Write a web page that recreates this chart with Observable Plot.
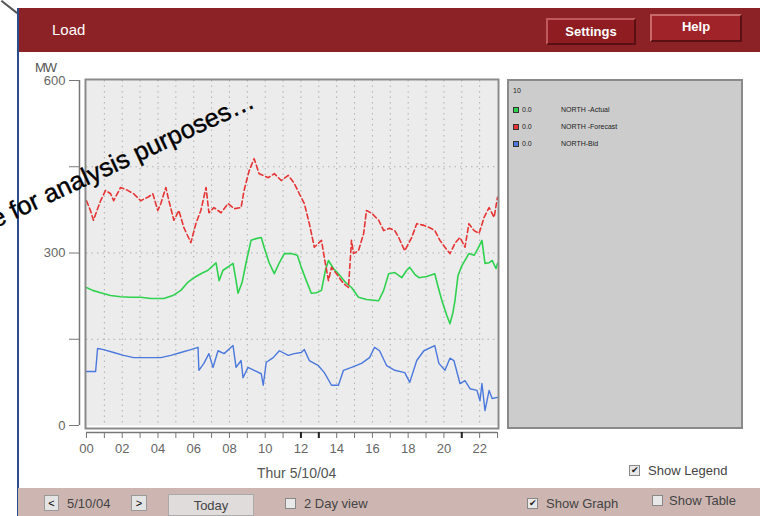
<!DOCTYPE html>
<html><head><meta charset="utf-8">
<script src="https://cdn.jsdelivr.net/npm/d3@7"></script>
<script src="https://cdn.jsdelivr.net/npm/@observablehq/plot@0.6"></script>
<style>
html,body{margin:0;padding:0;width:766px;height:516px;overflow:hidden;background:#fff;font-family:"Liberation Sans",Arial,sans-serif;}
#root{position:relative;width:766px;height:516px;}
.abs{position:absolute;}
#header{left:18px;top:8px;width:742px;height:44px;background:#8c2226;}
.btn{position:absolute;color:#fff;font-weight:bold;font-size:13px;text-align:center;box-sizing:border-box;}
#bottom{left:18px;top:488px;width:742px;height:28px;background:#cdb6b2;}
.small{font-size:13px;color:#444;}
.cb{position:absolute;width:11px;height:11px;border:1px solid #888;background:#e8e8e8;box-sizing:border-box;font-size:9px;line-height:9px;text-align:center;color:#222;}
.lg{position:absolute;font-size:7px;color:#222;}
.sq{position:absolute;width:6px;height:6px;border:1px solid #333;box-sizing:border-box;}
</style></head>
<body><div id="root">
<div class="abs" id="header">
  <div class="abs" style="left:34px;top:13px;color:#fff;font-size:15px;">Load</div>
  <div class="btn" style="left:528px;top:10px;width:90px;height:27px;background:#8e1c21;border:2px solid #c05a5a;border-right-color:#5a1012;border-bottom-color:#5a1012;line-height:23px;">Settings</div>
  <div class="btn" style="left:632px;top:6px;width:92px;height:28px;background:#a1232a;border:2px solid #c86868;border-right-color:#5a1012;border-bottom-color:#5a1012;line-height:22px;">Help</div>
</div>
<div class="abs" style="left:17px;top:8px;width:2px;height:508px;background:#2b4c8c;"></div>
<div class="abs" style="left:2px;top:0;width:20px;height:1.5px;background:#555;transform:rotate(38deg);transform-origin:0 0;"></div>
<div class="abs" style="left:35px;top:60px;font-size:13px;color:#555;letter-spacing:-1px;">MW</div>
<div id="chart" class="abs" style="left:0;top:60px;"></div>
<div class="abs" style="left:257px;top:465px;font-size:14px;color:#555;">Thur 5/10/04</div>
<div class="abs" id="legend" style="left:507px;top:79px;width:236px;height:350px;background:#cccccc;border:2px solid #8a8a8a;box-sizing:border-box;"></div>
<div class="cb" style="left:629px;top:465px;">&#10004;</div>
<div class="abs small" style="left:648px;top:463px;">Show Legend</div>
<div class="abs" id="bottom">
  <div class="abs" style="left:26px;top:7px;width:15px;height:16px;background:#e4e4e4;border:1px solid #999;box-sizing:border-box;font-size:11px;text-align:center;line-height:14px;">&lt;</div>
  <div class="abs small" style="left:49px;top:8px;">5/10/04</div>
  <div class="abs" style="left:113px;top:7px;width:16px;height:16px;background:#e4e4e4;border:1px solid #999;box-sizing:border-box;font-size:11px;text-align:center;line-height:14px;">&gt;</div>
  <div class="abs small" style="left:150px;top:6px;width:86px;height:22px;background:#e0dcdc;border:1px solid #aaa;box-sizing:border-box;text-align:center;line-height:22px;">Today</div>
  <div class="cb" style="left:267px;top:10px;"></div>
  <div class="abs small" style="left:286px;top:8px;">2 Day view</div>
  <div class="cb" style="left:509px;top:10px;">&#10004;</div>
  <div class="abs small" style="left:528px;top:8px;">Show Graph</div>
  <div class="cb" style="left:634px;top:7px;"></div>
  <div class="abs small" style="left:651px;top:5px;">Show Table</div>
</div>
<div class="abs" style="left:-3px;top:207px;font-size:25.5px;line-height:25px;color:#000;-webkit-text-stroke:0.4px #000;white-space:nowrap;transform:rotate(-25deg);transform-origin:0 100%;">e for analysis purposes…</div>
</div>
<script>
// Series names and colours
const seriesNames = ["NORTH -Actual", "NORTH -Forecast", "NORTH-Bid"];
const seriesColors = ["#2fd24f", "#e63434", "#4a78dc"];
const legendValues = ["0.0", "0.0", "0.0"];
const legendTitle = "10";

// NORTH -Actual (MW by hour)
const actualHours = [0,0.34,0.79,1.35,1.91,2.47,3.03,3.60,4.33,4.83,5.28,5.67,6.01,6.40,6.80,7.08,7.25,7.42,7.64,7.98,8.20,8.37,8.48,8.71,8.93,9.21,9.49,9.78,9.94,10.22,10.51,10.79,11.07,11.46,11.80,12.02,12.30,12.58,12.87,13.15,13.37,13.54,13.82,14.10,14.49,14.83,15.22,15.67,16.35,16.63,16.91,17.25,17.64,17.92,18.09,18.37,18.60,19.04,19.49,19.66,19.89,20.17,20.34,20.51,20.62,20.79,21.01,21.40,21.69,21.91,22.13,22.30,22.53,22.70,22.92,23.00];
const actualMW = [240,235,231,226,224,223,223,221,221,226,235,249,257,264,270,278,283,252,270,277,282,252,230,249,283,322,325,327,310,283,264,283,299,299,296,275,252,230,231,235,270,287,273,264,249,240,223,219,217,235,264,266,257,270,275,263,257,259,264,243,217,191,177,197,217,261,278,299,296,308,322,282,283,287,273,282];

// NORTH -Forecast
const forecastHours = [0,0.22,0.39,0.62,0.79,1.07,1.35,1.52,1.91,2.30,2.64,3.03,3.43,3.71,3.99,4.16,4.44,4.61,4.89,5.17,5.45,5.84,6.12,6.40,6.69,6.85,7.13,7.53,7.92,8.26,8.65,8.82,9.10,9.38,9.66,10.17,10.51,10.90,11.29,11.63,11.91,12.19,12.47,12.75,13.15,13.31,13.54,13.71,13.99,14.38,14.66,14.83,14.94,15.22,15.51,15.67,15.96,16.35,16.63,16.97,17.25,17.47,17.81,18.20,18.48,18.88,19.21,19.49,19.78,20.06,20.34,20.62,20.90,21.18,21.40,21.69,21.97,22.25,22.53,22.81,23.00];
const forecastMW = [391,374,357,377,391,409,403,391,414,409,403,391,397,403,374,386,414,391,357,374,344,318,351,374,414,370,379,370,386,377,379,409,443,464,438,431,438,426,435,421,403,386,351,310,322,292,252,275,264,247,240,322,299,304,334,374,369,357,339,343,339,327,304,327,351,348,344,339,322,310,299,317,327,310,351,339,334,362,379,362,397];

// NORTH-Bid
const bidHours = [0,0.51,0.62,0.96,1.52,2.08,2.64,3.43,4.16,4.72,5.28,5.84,6.24,6.29,6.57,6.85,7.08,7.36,7.70,8.20,8.37,8.65,8.76,9.04,9.38,9.78,9.89,10.06,10.45,10.79,11.29,11.63,12.02,12.19,12.47,12.98,13.31,13.71,14.10,14.38,14.83,15.39,15.84,16.12,16.40,16.80,17.25,17.81,18.09,18.48,18.88,19.49,19.72,20.06,20.34,20.56,20.90,21.18,21.46,21.85,22.02,22.13,22.30,22.53,22.70,23.00];
const bidMW = [94,94,134,132,127,122,118,118,118,122,127,132,136,96,108,125,101,130,125,139,101,113,83,101,96,90,70,110,118,130,122,125,127,132,113,104,92,70,70,96,101,108,118,136,130,104,96,92,75,113,130,139,108,96,117,113,73,78,64,61,43,73,26,61,47,49];

// Axes
const yTicks = [0,150,300,450,600];
const yTickLabels = ["0","","300","","600"];
const xTicks = d3.range(0,24);
const xTickLabels = ["00","","02","","04","","06","","08","","10","","12","","14","","16","","18","","20","","22",""];
const xBoldTicks = [12,13,21];

const toRows = (hs, vs, s) => hs.map((h,i)=>({hour:h, mw:vs[i], series:s}));
const actual = toRows(actualHours, actualMW, seriesNames[0]);
const forecast = toRows(forecastHours, forecastMW, seriesNames[1]);
const bid = toRows(bidHours, bidMW, seriesNames[2]);

const plot = Plot.plot({
  width: 510, height: 430,
  marginLeft: 86, marginRight: 13, marginTop: 20, marginBottom: 65,
  x: {domain:[0,23]},
  y: {domain:[0,600]},
  style: {fontFamily:"Liberation Sans, Arial, sans-serif", fontSize:"13px", color:"#666", background:"transparent", overflow:"visible"},
  marks: [
    Plot.frame({fill:"#ececec", stroke:null}),
    Plot.ruleX(d3.range(1,23), {stroke:"#b0b0b0", strokeDasharray:"1.5,4"}),
    Plot.ruleY([150,300,450], {stroke:"#b0b0b0", strokeDasharray:"1.5,4"}),
    Plot.line(actual, {x:"hour", y:"mw", stroke:seriesColors[0], strokeWidth:1.6}),
    Plot.line(forecast, {x:"hour", y:"mw", stroke:seriesColors[1], strokeWidth:1.6, strokeDasharray:"5,3"}),
    Plot.line(bid, {x:"hour", y:"mw", stroke:seriesColors[2], strokeWidth:1.4}),
    Plot.frame({stroke:"#8a8a8a", strokeWidth:2, insetLeft:-1, insetTop:-1, insetRight:-1, insetBottom:-3}),
    Plot.ruleX([0], {dx:-7, stroke:"#777", strokeWidth:1.5}),
    Plot.axisY({ticks:yTicks, tickSize:10, dx:-7, tickPadding:4, label:null, stroke:"#777", tickFormat:(d)=>yTickLabels[yTicks.indexOf(d)]}),
    Plot.ruleY([0], {dy:7, stroke:"#777", strokeWidth:1.5}),
    Plot.axisX({ticks:xTicks, tickSize:6, dy:7, tickPadding:5, label:null, stroke:"#777", tickFormat:(d)=>xTickLabels[d]}),
    Plot.axisX({ticks:xBoldTicks, tickSize:6, dy:7, label:null, stroke:"#222", strokeWidth:2, tickFormat:()=>""})
  ]
});
document.getElementById("chart").appendChild(plot);

// Legend panel
const lg = document.getElementById("legend");
const t = document.createElement("div"); t.className="lg"; t.style.left="4px"; t.style.top="6px"; t.textContent=legendTitle; lg.appendChild(t);
seriesNames.forEach((n,i)=>{
  const y = 26 + i*17;
  const sq = document.createElement("div"); sq.className="sq"; sq.style.left="4px"; sq.style.top=(y)+"px"; sq.style.background=seriesColors[i]; lg.appendChild(sq);
  const v = document.createElement("div"); v.className="lg"; v.style.left="13px"; v.style.top=(y-1)+"px"; v.textContent=legendValues[i]; lg.appendChild(v);
  const nm = document.createElement("div"); nm.className="lg"; nm.style.left="52px"; nm.style.top=(y-1)+"px"; nm.textContent=n; lg.appendChild(nm);
});
</script>
</body></html>
